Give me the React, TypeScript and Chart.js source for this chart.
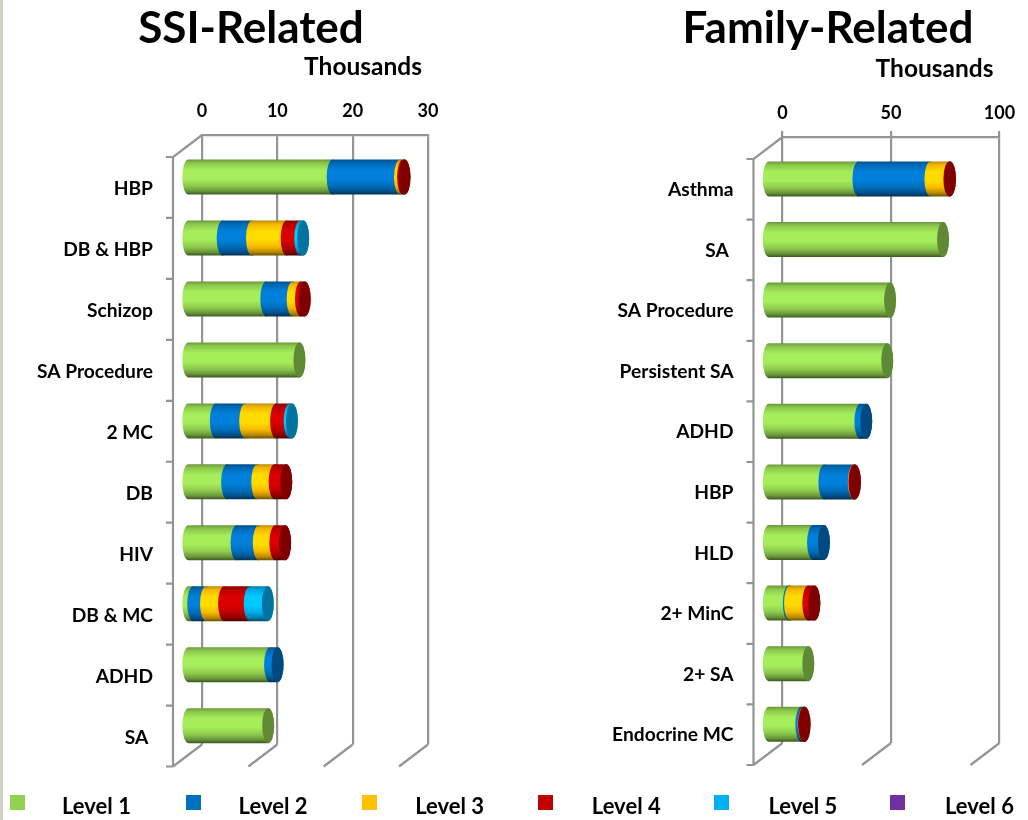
import React, { useEffect, useRef } from "react";
import { Chart, registerables } from "chart.js";

Chart.register(...registerables);

const levels = ["Level 1", "Level 2", "Level 3", "Level 4", "Level 5", "Level 6"];
const levelColors = ["#92d050", "#0070c0", "#ffc000", "#c00000", "#00b0f0", "#7030a0"];

const ssiCategories = ["HBP", "DB & HBP", "Schizop", "SA Procedure", "2 MC", "DB", "HIV", "DB & MC", "ADHD", "SA "];
const ssiLevel1 = [19.3, 4.7, 10.5, 14.9, 3.8, 5.3, 6.55, 0.8, 11.0, 10.75];
const ssiLevel2 = [8.95, 3.9, 3.5, 0, 3.9, 4.0, 2.95, 1.7, 1.0, 0];
const ssiLevel3 = [0.4, 4.6, 1.1, 0, 4.1, 2.3, 2.2, 2.4, 0, 0];
const ssiLevel4 = [0.2, 1.8, 0.5, 0, 1.8, 1.55, 1.3, 3.4, 0, 0];
const ssiLevel5 = [0, 0.4, 0, 0, 0.3, 0, 0, 2.4, 0, 0];
const ssiLevel6 = [0, 0, 0, 0, 0, 0, 0, 0, 0, 0];

const familyCategories = ["Asthma", "SA ", "SA Procedure", "Persistent SA", "ADHD", "HBP", "HLD", "2+ MinC", "2+ SA", "Endocrine MC"];
const familyLevel1 = [41.8, 80.8, 56.4, 55.1, 42.7, 26.1, 20.9, 9.7, 18.7, 15.5];
const familyLevel2 = [33.2, 0, 0, 0, 2.7, 13.6, 5.0, 0.6, 0, 1.1];
const familyLevel3 = [8.7, 0, 0, 0, 0, 0.2, 0, 8.4, 0, 0.1];
const familyLevel4 = [0.3, 0, 0, 0, 0, 0.3, 0, 2.8, 0, 0.3];
const familyLevel5 = [0, 0, 0, 0, 0, 0, 0, 0, 0, 0];
const familyLevel6 = [0, 0, 0, 0, 0, 0, 0, 0, 0, 0];

const unitLabel = "Thousands";
const FONT = "Lato, Carlito, Calibri, sans-serif";
const GRID = "#949494";
const FRONT_DX = -29;
const FRONT_DY = 22;
const BAR_DX = -14.8;
const BAR_DY = 11.6;
const CAP_RX = 6;

function shade(hex: string, k: number) {
  const n = parseInt(hex.slice(1), 16);
  const c = [(n >> 16) & 255, (n >> 8) & 255, n & 255].map((v) => Math.min(255, Math.round(v * k)));
  return `rgb(${c[0]},${c[1]},${c[2]})`;
}

function cylinder(ctx: CanvasRenderingContext2D, x0: number, x1: number, yc: number, h: number, color: string, withCap: boolean) {
  const ry = h / 2;
  const g = ctx.createLinearGradient(0, yc - ry, 0, yc + ry);
  g.addColorStop(0, shade(color, 0.72));
  g.addColorStop(0.1, shade(color, 0.95));
  g.addColorStop(0.3, shade(color, 1.14));
  g.addColorStop(0.55, shade(color, 1.14));
  g.addColorStop(0.75, shade(color, 0.97));
  g.addColorStop(0.9, shade(color, 0.72));
  g.addColorStop(1, shade(color, 0.42));
  ctx.beginPath();
  ctx.moveTo(x1, yc - ry);
  ctx.lineTo(x0, yc - ry);
  ctx.ellipse(x0, yc, CAP_RX, ry, 0, -Math.PI / 2, Math.PI / 2, true);
  ctx.lineTo(x1, yc + ry);
  ctx.ellipse(x1, yc, CAP_RX, ry, 0, Math.PI / 2, -Math.PI / 2, true);
  ctx.closePath();
  ctx.fillStyle = g;
  ctx.fill();
  if (withCap) {
    ctx.beginPath();
    ctx.ellipse(x1, yc, CAP_RX, ry, 0, 0, Math.PI * 2);
    ctx.fillStyle = shade(color, 0.66);
    ctx.fill();
  }
}

const frame3dPlugin = {
  id: "frame3d",
  afterLayout(chart: any) {
    if (chart.titleBlock) {
      chart.titleBlock.left = 0;
      chart.titleBlock.right = chart.width;
    }
  },
  beforeDatasetsDraw(chart: any) {
    const { ctx, chartArea, scales } = chart;
    const { top, bottom, left, right } = chartArea;
    const rows = chart.data.labels.length;
    const rowH = (bottom - top) / rows;
    ctx.save();
    ctx.strokeStyle = GRID;
    ctx.lineWidth = 2.2;
    ctx.beginPath();
    ctx.moveTo(left, top);
    ctx.lineTo(left + FRONT_DX, top + FRONT_DY);
    ctx.lineTo(left + FRONT_DX, bottom + FRONT_DY);
    for (let i = 0; i <= rows; i++) {
      const y = top + FRONT_DY + i * rowH;
      ctx.moveTo(left + FRONT_DX, y);
      ctx.lineTo(left + FRONT_DX - 7, y);
    }
    for (const t of scales.x.ticks) {
      const px = scales.x.getPixelForValue(t.value);
      ctx.moveTo(px, bottom);
      ctx.lineTo(px + FRONT_DX, bottom + FRONT_DY);
    }
    ctx.stroke();

    ctx.fillStyle = "#000";
    ctx.font = `bold 24.5px ${FONT}`;
    ctx.textAlign = "right";
    ctx.textBaseline = "middle";
    ctx.fillText(unitLabel, right - 6, top - 68);

    const metas = chart.getSortedVisibleDatasetMetas();
    const datasets = chart.data.datasets;
    for (let r = 0; r < rows; r++) {
      let last = -1;
      metas.forEach((m: any, i: number) => {
        if (datasets[m.index].data[r] > 0) last = i;
      });
      metas.forEach((m: any, i: number) => {
        if (!(datasets[m.index].data[r] > 0)) return;
        const el = m.data[r];
        cylinder(ctx, el.base + BAR_DX, el.x + BAR_DX, el.y + BAR_DY, el.height, datasets[m.index].backgroundColor, i === last);
      });
    }
    ctx.restore();
    return false;
  },
};

type PanelProps = {
  title: string;
  categories: string[];
  series: number[][];
  max: number;
  step: number;
  canvasLeft: number;
  width: number;
  axisWidth: number;
  axisHeight: number;
  padRight: number;
  padBottom: number;
  tickLen: number;
  tickPad: number;
  labelShift: number;
};

function Panel(p: PanelProps) {
  const ref = useRef<HTMLCanvasElement>(null);
  useEffect(() => {
    const chart = new Chart(ref.current as HTMLCanvasElement, {
      type: "bar",
      plugins: [frame3dPlugin],
      data: {
        labels: p.categories,
        datasets: levels.map((label, i) => ({
          label,
          data: p.series[i],
          backgroundColor: levelColors[i],
          barThickness: 35,
          stack: "s",
        })),
      },
      options: {
        indexAxis: "y",
        animation: false,
        responsive: false,
        layout: { padding: { left: 0, top: 0, right: p.padRight, bottom: p.padBottom } },
        plugins: {
          legend: { display: false },
          tooltip: { enabled: false },
          title: {
            display: true,
            text: p.title,
            color: "#000",
            font: { family: FONT, size: 44, weight: "bold", lineHeight: 1 },
            padding: { top: 7, bottom: 0 },
          },
        },
        scales: {
          x: {
            type: "linear",
            position: "top",
            stacked: true,
            min: 0,
            max: p.max,
            ticks: {
              stepSize: p.step,
              color: "#000",
              padding: p.tickPad,
              maxRotation: 0,
              font: { family: FONT, size: 18, weight: "bold" },
            },
            grid: { color: GRID, lineWidth: 2.2, drawTicks: p.tickLen > 0, tickLength: p.tickLen },
            border: { display: true, color: GRID, width: 2.2 },
            afterFit(s: any) {
              s.height = p.axisHeight;
            },
          },
          y: {
            type: "category",
            stacked: true,
            offset: true,
            ticks: {
              color: "#000",
              padding: 49,
              labelOffset: p.labelShift,
              autoSkip: false,
              font: { family: FONT, size: 19.2, weight: "bold" },
            },
            grid: { display: false, drawTicks: false },
            border: { display: false },
            afterFit(s: any) {
              s.width = p.axisWidth;
            },
          },
        },
      },
    } as any);
    return () => chart.destroy();
  }, []);
  return (
    <canvas
      ref={ref}
      width={p.width}
      height={820}
      style={{ position: "absolute", left: p.canvasLeft, top: 0, width: p.width, height: 820 }}
    />
  );
}

export default function App() {
  return (
    <div style={{ position: "absolute", left: 0, top: 0, width: 1028, height: 820, overflow: "hidden", background: "#fff" }}>
      <div style={{ position: "absolute", left: 0, top: 0, width: 3, height: 820, background: "#cfd1c4" }} />
      <Panel
        title="SSI-Related"
        categories={ssiCategories}
        series={[ssiLevel1, ssiLevel2, ssiLevel3, ssiLevel4, ssiLevel5, ssiLevel6]}
        max={30}
        step={10}
        canvasLeft={0}
        width={502}
        axisWidth={202}
        axisHeight={84}
        padRight={74}
        padBottom={75.5}
        tickLen={0}
        tickPad={13}
        labelShift={23.5}
      />
      <Panel
        title="Family-Related"
        categories={familyCategories}
        series={[familyLevel1, familyLevel2, familyLevel3, familyLevel4, familyLevel5, familyLevel6]}
        max={100}
        step={50}
        canvasLeft={600}
        width={456}
        axisWidth={182.5}
        axisHeight={86}
        padRight={56.5}
        padBottom={77}
        tickLen={6}
        tickPad={7.5}
        labelShift={22.5}
      />
      {levels.map((name, i) => (
        <React.Fragment key={name}>
          <div
            style={{
              position: "absolute",
              left: 10 + i * 176,
              top: 795,
              width: 15,
              height: 15,
              background: levelColors[i],
            }}
          />
          <div
            style={{
              position: "absolute",
              left: 62 + i * 176.6,
              top: 793,
              lineHeight: "26px",
              fontFamily: FONT,
              fontWeight: "bold",
              fontSize: 22,
              color: "#000",
              whiteSpace: "nowrap",
            }}
          >
            {name}
          </div>
        </React.Fragment>
      ))}
    </div>
  );
}
